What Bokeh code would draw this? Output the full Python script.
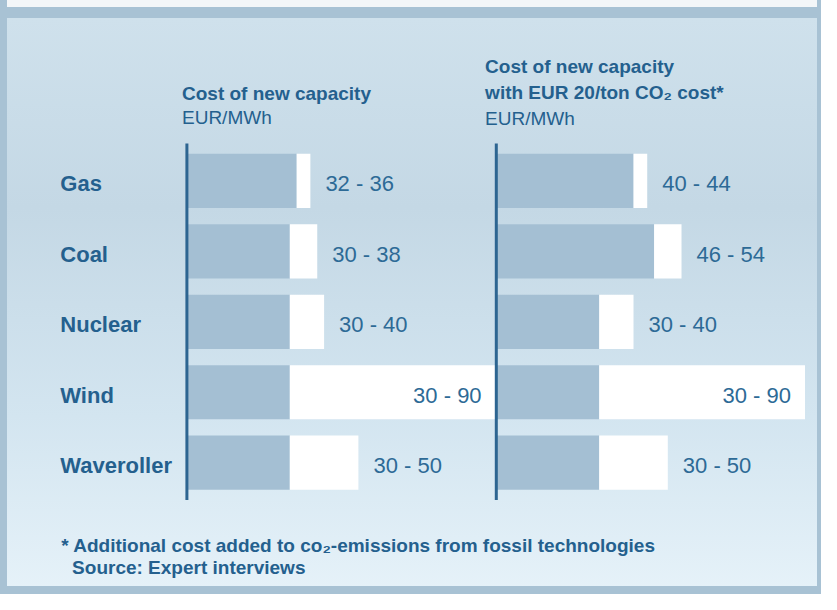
from bokeh.plotting import figure
from bokeh.models import Range1d, ColumnDataSource, Label
from bokeh.embed import file_html
from bokeh.resources import INLINE
from bokeh.core.properties import value

# ---------------- data ----------------
categories = ["Gas", "Coal", "Nuclear", "Wind", "Waveroller"]
base_low = [32, 30, 30, 30, 30]
base_high = [36, 38, 40, 90, 50]
co2_low = [40, 46, 30, 30, 30]
co2_high = [44, 54, 40, 90, 50]

title_left = ["Cost of new capacity", "EUR/MWh"]
title_right = ["Cost of new capacity", "with EUR 20/ton CO\u2082 cost*", "EUR/MWh"]
footnotes = ["* Additional cost added to co\u2082-emissions from fossil technologies",
             "Source: Expert interviews"]

# ---------------- style / layout ----------------
W, H = 821, 594
K = 3.43            # px per EUR/MWh
LEFT0 = 186.4       # px of the left panel baseline
RIGHT0 = 495.8      # px of the right panel baseline
PITCH = 70.45       # px per category row
FIRST_ROW = 180.4   # px (from top) of the first row centre
FONT = "Liberation Sans"
DARK_TXT = "#24608e"
VAL_TXT = "#2d6a96"
BAR_DARK = "#a4bfd3"
AXIS_COL = "#2d6591"
FRAME = "#a8c2d4"

n = len(categories)
idx = list(range(n))

p = figure(
    width=W, height=H, output_backend="svg", toolbar_location=None,
    x_axis_type=None, y_axis_type=None, min_border=0,
    x_range=Range1d(-LEFT0 / K, (W - LEFT0) / K),
    y_range=Range1d((H - FIRST_ROW) / PITCH, -FIRST_ROW / PITCH),
    background_fill_alpha=0, border_fill_alpha=0, outline_line_color=None,
    styles={
        "background": "linear-gradient(180deg, #f3f6f8 0px, #f3f6f8 7px, "
                      f"{FRAME} 7px, {FRAME} 18px, "
                      "#cfe1ec 18px, #c4d8e5 35%, #d3e5f0 70%, #e6f2f9 100%)",
        "box-shadow": f"inset 7px 0 0 0 {FRAME}, inset -4px 0 0 0 {FRAME}, "
                      f"inset 0 -8px 0 0 {FRAME}",
    },
)
p.extra_x_ranges = {"co2": Range1d(-RIGHT0 / K, (W - RIGHT0) / K)}


def panel(low, high, rng):
    kw = {} if rng is None else {"x_range_name": rng}
    src = ColumnDataSource(dict(
        y=idx, low=low, high=high,
        label=[f"{a} - {b}" for a, b in zip(low, high)],
        align=["right" if b == max(high) else "left" for b in high],
        dx=[-14 if b == max(high) else 15 for b in high],
    ))
    p.hbar(y="y", left=0, right="low", height=0.77, source=src,
           fill_color=BAR_DARK, line_color=None, **kw)
    p.hbar(y="y", left="low", right="high", height=0.77, source=src,
           fill_color="white", line_color=None, **kw)
    p.segment(x0=0, x1=0, y0=-0.53, y1=n - 0.47, line_color=AXIS_COL,
              line_width=3, **kw)
    p.text(x="high", y="y", text="label", source=src, x_offset="dx", y_offset=3,
           text_align="align", text_baseline="middle",
           text_font=value(FONT), text_font_size="22px", text_color=VAL_TXT, **kw)


panel(base_low, base_high, None)
panel(co2_low, co2_high, "co2")

# category labels
p.text(x=0, y=idx, text=categories, x_offset=-126.6, y_offset=3,
       text_align="left", text_baseline="middle",
       text_font=value(FONT), text_font_size="22px", text_font_style="bold",
       text_color=DARK_TXT)


def lab(txt, fx, fy, size, bold):
    p.add_layout(Label(x=fx, y=H - fy, x_units="screen", y_units="screen",
                       text=txt, text_font=FONT, text_font_size=size,
                       text_font_style="bold" if bold else "normal",
                       text_color=DARK_TXT, text_baseline="alphabetic",
                       text_align="left"))


# panel titles
lab(title_left[0], 181.5, 93, "19px", True)
lab(title_left[1], 181.5, 116.5, "19px", False)
lab(title_right[0], 484.6, 65.7, "19px", True)
lab(title_right[1], 484.6, 92, "19px", True)
lab(title_right[2], 484.6, 118.3, "19px", False)

# footnotes
lab(footnotes[0], 60.8, 545.3, "19px", True)
lab(footnotes[1], 71.6, 566.7, "19px", True)

open("out.html", "w").write(file_html(p, INLINE))
